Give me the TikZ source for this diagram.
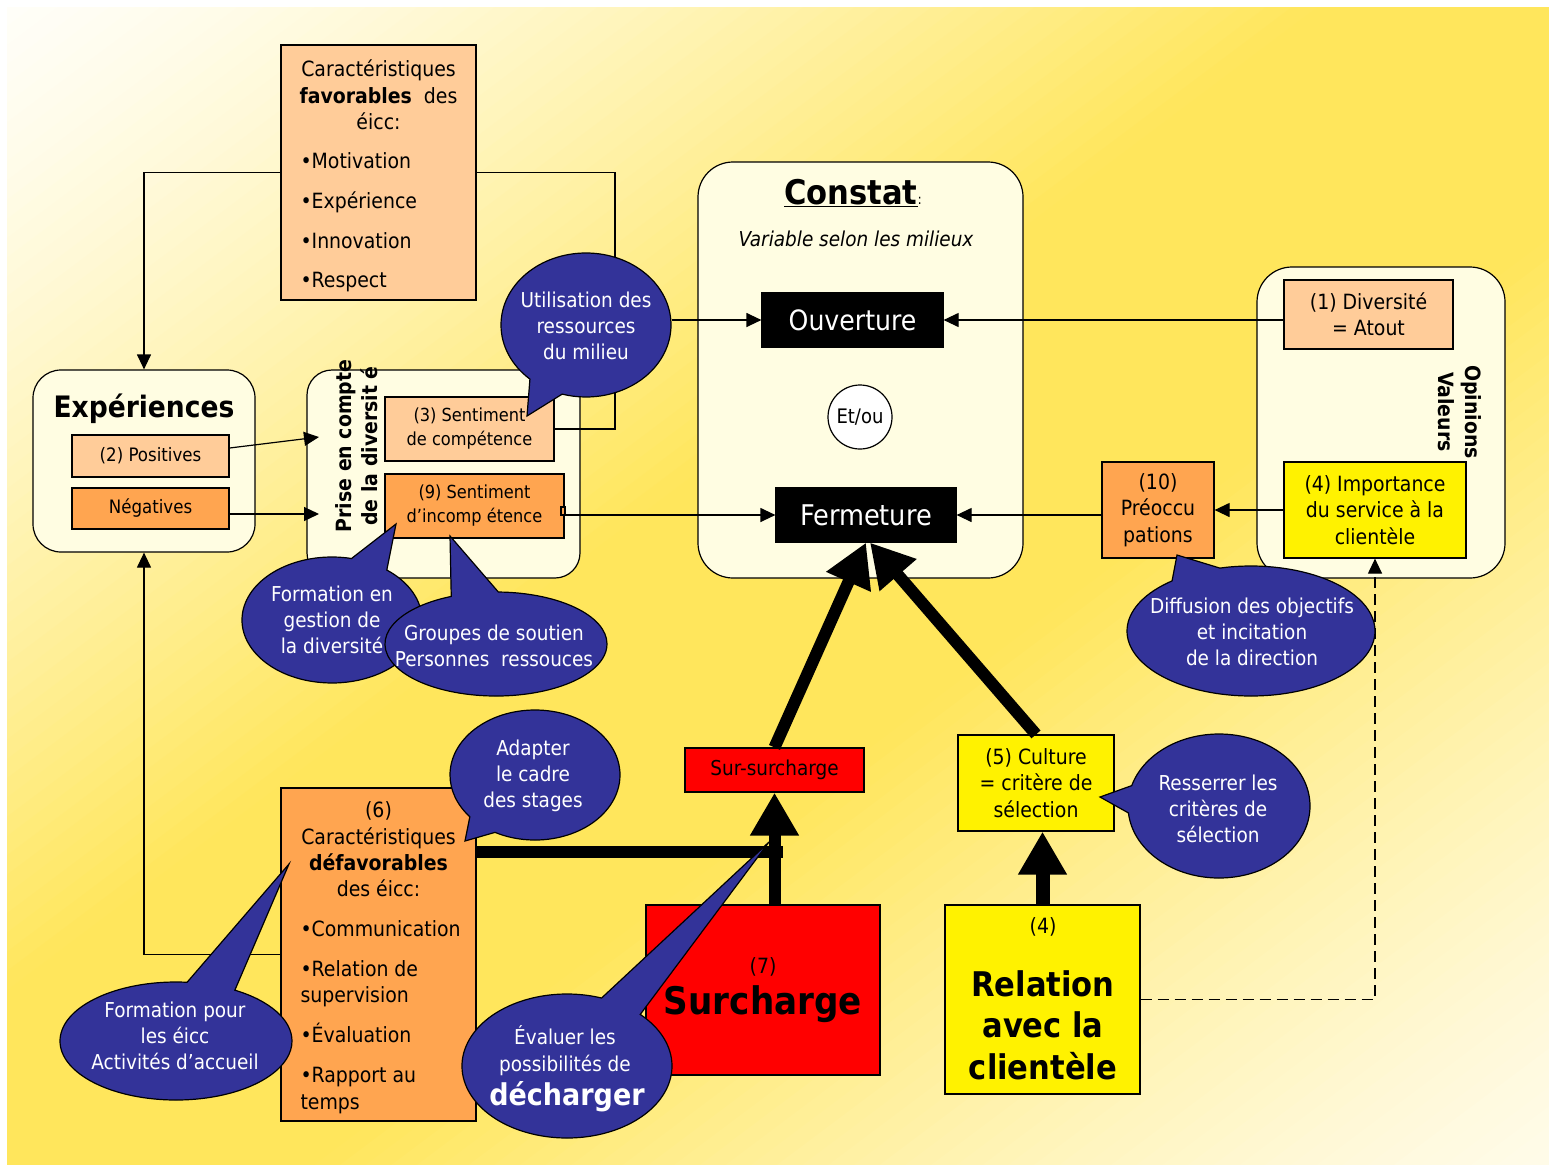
\documentclass[tikz,border=0pt]{standalone}
\usepackage{fontspec}
\setmainfont{DejaVuSansCondensed.ttf}[BoldFont=DejaVuSansCondensed-Bold.ttf,ItalicFont=DejaVuSansCondensed-Oblique.ttf,BoldItalicFont=DejaVuSansCondensed-BoldOblique.ttf]
\usetikzlibrary{arrows.meta,shapes.callouts,shapes.geometric,calc}
\definecolor{peach}{HTML}{FFCC99}
\definecolor{orng}{HTML}{FFA550}
\definecolor{cream}{HTML}{FFFDE2}
\definecolor{cblue}{HTML}{333399}
\definecolor{bgyel}{HTML}{FFE65C}
\definecolor{bgwhite}{HTML}{FFFEF8}
\definecolor{bgcream}{HTML}{FFFBE8}
\newcommand{\fsz}[2]{\fontsize{#1}{#2}\selectfont}
\begin{document}
\begin{tikzpicture}[x=1pt,y=-1pt,
  box/.style={draw=black, line width=1.2pt, inner sep=0pt, rectangle},
  rbox/.style={box, rounded corners=28pt, fill=cream},
  conn/.style={line width=1.2pt},
  arr/.style={conn, -{Triangle[length=15pt,width=14pt]}},
  big/.style={line width=12pt, -{Triangle[length=43pt,width=46pt]}},
  callout/.style={ellipse callout, draw=black, line width=1.2pt, fill=cblue, inner sep=0pt, callout pointer arc=25},
  ctext/.style={text=white, align=center, font=\fsz{20.5}{26.3}},
  t/.style={align=center, font=\fsz{21}{26.3}}]
\useasboundingbox (0,0) rectangle (1549,1170);
\fill[white] (0,0) rectangle (1549,1170);
% diagonal gradient background, drawn as bands
\begin{scope}
\clip (7,7) rectangle (1549,1164);
\foreach \i in {0,...,59}{
  \pgfmathsetmacro\ca{\i/60}
  \pgfmathsetmacro\cb{(\i+2)/60}
  \pgfmathsetmacro\cm{(\i+0.5)/60}
  \pgfmathsetmacro\p{100*(min(1,\cm/0.85))^1.3}
  \fill[bgyel!\p!bgwhite] ({7+\ca*1542},7) -- ({7+\cb*1542},7) -- (7,{7+\cb*1157}) -- (7,{7+\ca*1157}) -- cycle;
}
\foreach \i in {60,...,119}{
  \pgfmathsetmacro\ca{\i/60}
  \pgfmathsetmacro\cb{(\i+2)/60}
  \pgfmathsetmacro\cm{(\i+0.5)/60}
  \pgfmathsetmacro\p{100*(min(1,(2-\cm)/0.8))^1.3}
  \fill[bgyel!\p!bgcream] ({7+\ca*1542},7) -- ({7+\cb*1542},7) -- (7,{7+\cb*1157}) -- (7,{7+\ca*1157}) -- cycle;
}
\end{scope}

% favorable characteristics
\node[box, fill=peach, minimum width=195pt, minimum height=255pt] (fav) at (378.5,172.5) {};
\node[t] (favT1) at (378.5,95) {Caractéristiques\\\textbf{favorables}\ \ des\\éicc:};
\node[t, anchor=west, align=left] (favT2) at (297,222.5) {•Motivation\\[13.4pt]•Expérience\\[13.4pt]•Innovation\\[13.4pt]•Respect};

% experiences
\node[rbox, minimum width=222pt, minimum height=182pt] (exp) at (144,461) {};
\node[font=\fsz{29.5}{30}\bfseries] (expT) at (144,409) {Expériences};
\node[box, fill=peach, minimum width=157pt, minimum height=42pt, font=\fsz{18.5}{22}] (pos) at (150.5,456) {(2) Positives};
\node[box, fill=orng, minimum width=157pt, minimum height=41pt, font=\fsz{18.5}{22}] (neg) at (150.5,508.5) {Négatives};

% prise en compte
\node[rbox, rounded corners=25pt, minimum width=273pt, minimum height=208pt] (prise) at (443.5,474) {};
\node[rotate=90, align=center, font=\fsz{21}{26}\bfseries] (priseT) at (357,446) {Prise en compte\\de la diversit é};
\node[box, fill=peach, minimum width=169pt, minimum height=64pt, align=center, font=\fsz{18}{24}] (s3) at (469.5,429) {(3) Sentiment\\de compétence};
\node[box, fill=orng, minimum width=179pt, minimum height=64pt, align=center, font=\fsz{18}{24}] (s9) at (474.5,506) {(9) Sentiment\\d’incomp étence};

% constat
\node[rbox, rounded corners=35pt, minimum width=325pt, minimum height=416pt] (constat) at (860.5,370) {};
\node[font=\fsz{34}{36}] (constT) at (853,193) {\underline{\textbf{Constat}}{\fsz{14}{14}:}};
\node[font=\fsz{20.5}{24}\itshape] (varT) at (856,239) {Variable selon les milieux};
\node[box, fill=black, text=white, minimum width=181pt, minimum height=54pt, font=\fsz{28}{30}] (ouv) at (852.5,320) {Ouverture};
\node[circle, draw=black, line width=1.2pt, fill=white, minimum size=64pt, inner sep=0pt, font=\fsz{20}{22}] (etou) at (860,417) {Et/ou};
\node[box, fill=black, text=white, minimum width=180pt, minimum height=54pt, font=\fsz{28.5}{30}] (ferm) at (866,515) {Fermeture};

% opinions
\node[rbox, rounded corners=35pt, minimum width=248pt, minimum height=311pt] (opin) at (1381,422.5) {};
\node[rotate=-90, align=center, font=\fsz{21}{27}\bfseries] (opinT) at (1460,412) {Opinions\\Valeurs};
\node[box, fill=peach, minimum width=169pt, minimum height=69pt, t] (div1) at (1368.5,314.5) {(1) Diversité\\= Atout};
\node[box, fill=yellow, minimum width=182pt, minimum height=96pt, t] (imp4) at (1375,510) {(4) Importance\\du service à la\\clientèle};
\node[box, fill=orng, minimum width=112pt, minimum height=96pt, t] (pre10) at (1158,510) {(10)\\Préoccu\\pations};

% unfavourable characteristics
\node[box, fill=orng, minimum width=195pt, minimum height=333pt] (def6) at (378.5,954.5) {};
\node[t] (def6T1) at (378.5,849.5) {(6)\\Caractéristiques\\\textbf{défavorables}\\des éicc:};
\node[t, anchor=west, align=left] (def6T2) at (297,1017) {•Communication\\[13.7pt]•Relation de\\supervision\\[13.7pt]•Évaluation\\[13.7pt]•Rapport au\\temps};

% surcharge
\node[box, fill=red, minimum width=179pt, minimum height=44pt, font=\fsz{20.5}{22}] (sursur) at (774.5,770) {Sur-surcharge};
\node[box, fill=red, minimum width=234pt, minimum height=170pt] (surch) at (763,990) {};
\node[font=\fsz{21}{22}] (surchT1) at (763,967) {(7)};
\node[font=\fsz{38}{40}\bfseries] (surchT2) at (763,1004) {Surcharge};

% culture / relation
\node[box, fill=yellow, minimum width=156pt, minimum height=96pt, t] (cult5) at (1036,783) {(5) Culture\\= critère de\\sélection};
\node[box, fill=yellow, minimum width=195pt, minimum height=189pt] (rel) at (1042.5,999.5) {};
\node[font=\fsz{21}{22}] (relT1) at (1043,927) {(4)};
\node[align=center, font=\fsz{34}{41.5}\bfseries] (relT2) at (1043,1025) {Relation\\avec la\\clientèle};

% thin connectors
\coordinate (favR) at (615,429);
\coordinate (pin1) at (319,437);
\coordinate (pin2) at (319,514);
\draw[arr] (fav.west) -| (exp.north);
\draw[conn] (fav.east) -| (favR) -- (s3.east);
\draw[arr] ($(pos.east)+(0,-8)$) -- (pin1);
\draw[arr] (neg.east |- pin2) -- (pin2);
\draw[conn, fill=orng] (561,507) rectangle (565,515);
\draw[arr] (s9.east |- ferm.west) -- (ferm.west);
\draw[arr] (div1.west |- ouv.east) -- (ouv.east);
\draw[arr] (pre10.west |- ferm.east) -- (ferm.east);
\draw[arr] (imp4.west) -- (pre10.east);
\draw[arr] (def6.west) -| (exp.south);
\draw[arr, dash pattern=on 11pt off 6pt] (rel.east) -| (imp4.south);

% thick arrows
\coordinate (barE) at (783,852);
\draw[big] (sursur.north) -- (ferm.south);
\draw[big] (cult5.north) -- ($(ferm.south)+(4,0)$);
\draw[line width=12pt] (def6.east |- barE) -- (barE);
\draw[big] (surch.north -| sursur.south) -- (sursur.south);
\draw[big, line width=14pt] (rel.north) -- (rel.north |- cult5.south);

% callouts
\node[callout, minimum width=170pt, minimum height=144pt, callout absolute pointer={(527,416)}] (util) at (586,325) {};
\node[callout, minimum width=180pt, minimum height=126pt, callout absolute pointer={(396,524)}] (formg) at (332,620) {};
\node[callout, minimum width=222pt, minimum height=104pt, callout absolute pointer={(450,536)}] (grp) at (496,644) {};
\node[callout, minimum width=248pt, minimum height=130pt, callout absolute pointer={(1177,555)}] (diff) at (1251,631) {};
\node[callout, minimum width=170pt, minimum height=130pt, callout absolute pointer={(465,841)}, callout pointer arc=22] (adapt) at (535,775) {};
\node[callout, minimum width=232pt, minimum height=118pt, callout absolute pointer={(289,864)}] (formp) at (176,1041) {};
\node[callout, minimum width=210pt, minimum height=144pt, callout absolute pointer={(769,842)}] (eval) at (567,1066) {};
\node[callout, minimum width=182pt, minimum height=144pt, callout absolute pointer={(1100,797)}, callout pointer arc=22] (ress) at (1219,806) {};
\draw[arr] (util.east |- ouv.west) -- (ouv.west);

\node[ctext] (utilT) at (586,326) {Utilisation des\\ressources\\du milieu};
\node[ctext] (formgT) at (332,620) {Formation en\\gestion de\\la diversité};
\node[ctext] (grpT) at (494,646) {Groupes de soutien\\Personnes~ ressouces};
\node[ctext] (diffT) at (1252,632) {Diffusion des objectifs\\et incitation\\de la direction};
\node[ctext] (adaptT) at (533,776) {Adapter\\le cadre\\des stages};
\node[ctext] (formpT) at (175,1036) {Formation pour\\les éicc\\Activités d’accueil};
\node[ctext] (evalT1) at (565,1050.5) {Évaluer les\\possibilités de};
\node[font=\fsz{30}{32}\bfseries, text=white] (evalT2) at (567,1097) {décharger};
\node[ctext] (ressT) at (1218,809) {Resserrer les\\critères de\\sélection};
\end{tikzpicture}
\end{document}
